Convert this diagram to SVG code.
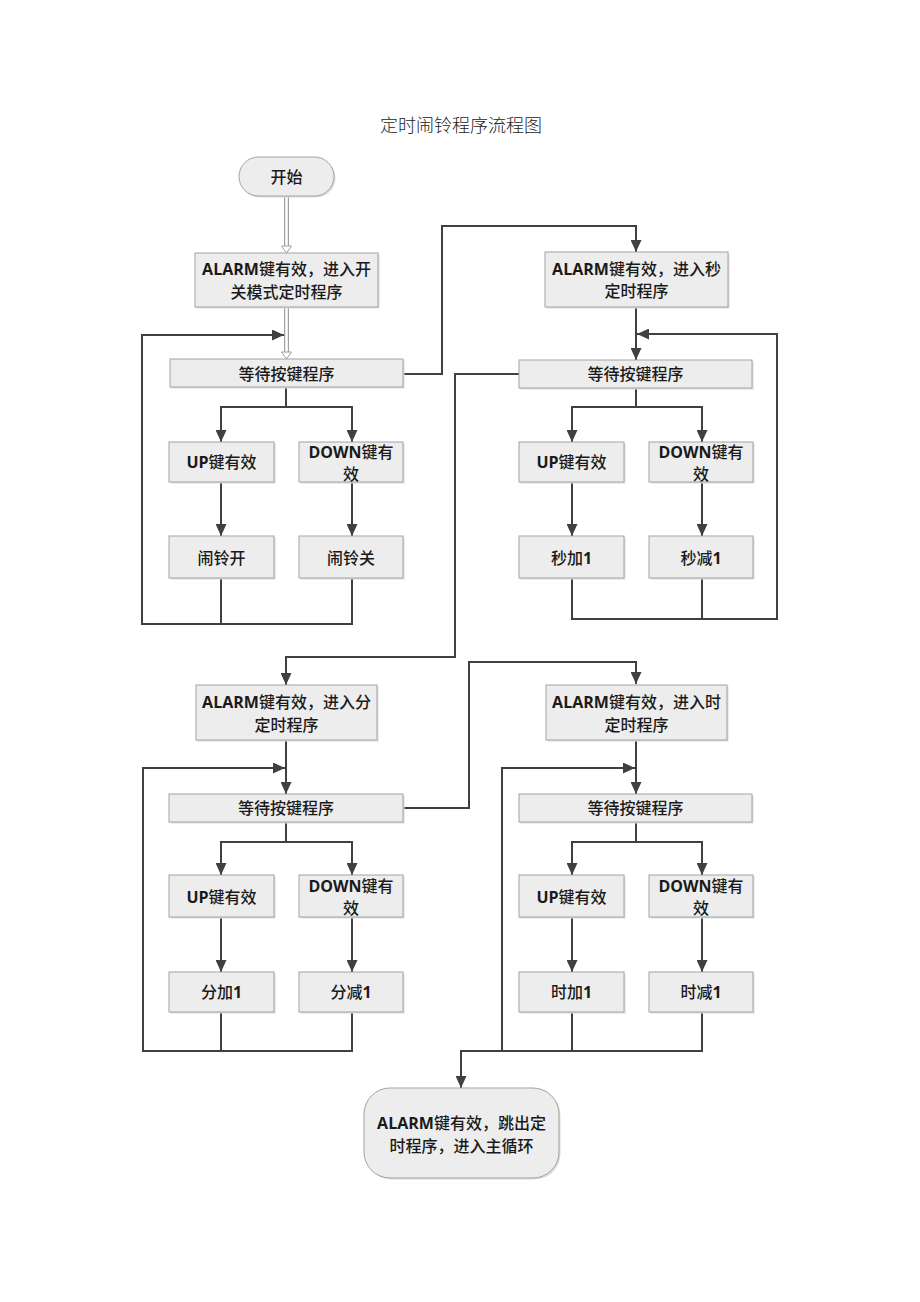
<svg xmlns="http://www.w3.org/2000/svg" width="920" height="1302" viewBox="0 0 920 1302">
<style>
.bx{fill:#ededed;stroke:#a3a3a3;stroke-width:1}
.sh{fill:#dcdcdc}
.t{font-family:"Noto Sans CJK SC","Noto Sans",sans-serif;font-size:16px;font-weight:500;fill:#1a1a1a;text-anchor:middle}
.b{font-weight:bold;font-family:"Open Sans","Noto Sans CJK SC",sans-serif}
.ttl{font-family:"Noto Sans CJK SC",serif;font-size:18px;font-weight:300;fill:#222;text-anchor:middle}
.c{fill:none;stroke:#404040;stroke-width:2}
.ho{fill:none;stroke:#a0a0a0;stroke-width:5}
.hi{fill:none;stroke:#ffffff;stroke-width:2.6}
.hh{fill:#fff;stroke:#a0a0a0;stroke-width:1}
</style>
<defs>
<marker id="ar" markerUnits="userSpaceOnUse" markerWidth="12" markerHeight="11" refX="12" refY="5.5" orient="auto">
<path d="M0,0 L12,5.5 L0,11 z" fill="#404040"/>
</marker>
</defs>
<rect width="920" height="1302" fill="#ffffff"/>
<text class="ttl" x="461" y="132">定时闹铃程序流程图</text>

<g id="connectors">
<g id="hollow">
<line class="ho" x1="286.5" y1="196" x2="286.5" y2="246"/>
<line class="hi" x1="286.5" y1="196" x2="286.5" y2="247"/>
<path class="hh" d="M281.5,246 L291.5,246 L286.5,253 z"/>
<line class="ho" x1="286.5" y1="307" x2="286.5" y2="352"/>
<line class="hi" x1="286.5" y1="307" x2="286.5" y2="353"/>
<path class="hh" d="M281.5,352 L291.5,352 L286.5,359 z"/>
</g>
<path class="c" d="M221,578 V624"/>
<path class="c" d="M352,578 V624 H142 V335 H284" marker-end="url(#ar)"/>
<path class="c" d="M403,374 H442 V226 H636 V252" marker-end="url(#ar)"/>
<path class="c" d="M286,387 V407 H221 V442" marker-end="url(#ar)"/>
<path class="c" d="M286,407 H352 V442" marker-end="url(#ar)"/>
<path class="c" d="M221,482 V536" marker-end="url(#ar)"/>
<path class="c" d="M352,482 V536" marker-end="url(#ar)"/>

<path class="c" d="M636,307 V360" marker-end="url(#ar)"/>
<path class="c" d="M702,578 V619"/>
<path class="c" d="M572,578 V619 H777 V334 H637" marker-end="url(#ar)"/>
<path class="c" d="M636,388 V407 H572 V442" marker-end="url(#ar)"/>
<path class="c" d="M636,407 H702 V442" marker-end="url(#ar)"/>
<path class="c" d="M572,482 V536" marker-end="url(#ar)"/>
<path class="c" d="M702,482 V536" marker-end="url(#ar)"/>

<path class="c" d="M519,374 H455 V657 H286 V685" marker-end="url(#ar)"/>
<path class="c" d="M286,740 V794" marker-end="url(#ar)"/>
<path class="c" d="M221,1012 V1051"/>
<path class="c" d="M352,1012 V1051 H143 V768 H285" marker-end="url(#ar)"/>
<path class="c" d="M286,822 V842 H221 V875" marker-end="url(#ar)"/>
<path class="c" d="M286,842 H352 V875" marker-end="url(#ar)"/>
<path class="c" d="M221,917 V972" marker-end="url(#ar)"/>
<path class="c" d="M352,917 V972" marker-end="url(#ar)"/>

<path class="c" d="M403,808 H469 V662 H636 V684" marker-end="url(#ar)"/>
<path class="c" d="M636,740 V794" marker-end="url(#ar)"/>
<path class="c" d="M572,1012 V1051"/>
<path class="c" d="M702,1012 V1051 H502 V768 H635" marker-end="url(#ar)"/>
<path class="c" d="M636,822 V842 H572 V875" marker-end="url(#ar)"/>
<path class="c" d="M636,842 H702 V875" marker-end="url(#ar)"/>
<path class="c" d="M572,917 V972" marker-end="url(#ar)"/>
<path class="c" d="M702,917 V972" marker-end="url(#ar)"/>
<path class="c" d="M502,1051 H461 V1088" marker-end="url(#ar)"/>
</g>

<g id="start">
<rect class="sh" x="240.5" y="158.5" width="95" height="39" rx="19.5"/>
<rect class="bx" x="239" y="157" width="95" height="39" rx="19.5"/>
<text class="t" x="286.5" y="183">开始</text>
</g>

<g id="alarm-switch">
<rect class="sh" x="196.5" y="254.5" width="183" height="54"/>
<rect class="bx" x="195" y="253" width="183" height="54"/>
<text class="t" x="286.5" y="275"><tspan class="b">ALARM</tspan>键有效，进入开</text>
<text class="t" x="286.5" y="298">关模式定时程序</text>
</g>
<g id="wait1">
<rect class="sh" x="171.5" y="360.5" width="233" height="28"/>
<rect class="bx" x="170" y="359" width="233" height="28"/>
<text class="t" x="286.5" y="380">等待按键程序</text>
</g>
<g id="up1">
<rect class="sh" x="170.5" y="443.5" width="105" height="40"/>
<rect class="bx" x="169" y="442" width="105" height="40"/>
<text class="t" x="221.5" y="468"><tspan class="b">UP</tspan>键有效</text>
</g>
<g id="down1">
<rect class="sh" x="300.5" y="443.5" width="104" height="40"/>
<rect class="bx" x="299" y="442" width="104" height="40"/>
<text class="t" x="351" y="458"><tspan class="b">DOWN</tspan>键有</text>
<text class="t" x="351" y="480">效</text>
</g>
<g id="alarm-on">
<rect class="sh" x="170.5" y="537.5" width="105" height="42"/>
<rect class="bx" x="169" y="536" width="105" height="42"/>
<text class="t" x="221.5" y="564">闹铃开</text>
</g>
<g id="alarm-off">
<rect class="sh" x="300.5" y="537.5" width="104" height="42"/>
<rect class="bx" x="299" y="536" width="104" height="42"/>
<text class="t" x="351" y="564">闹铃关</text>
</g>

<g id="alarm-sec">
<rect class="sh" x="546.5" y="253.5" width="183" height="55"/>
<rect class="bx" x="545" y="252" width="183" height="55"/>
<text class="t" x="636.5" y="275"><tspan class="b">ALARM</tspan>键有效，进入秒</text>
<text class="t" x="636.5" y="297">定时程序</text>
</g>
<g id="wait2">
<rect class="sh" x="520.5" y="361.5" width="233" height="28"/>
<rect class="bx" x="519" y="360" width="233" height="28"/>
<text class="t" x="635.5" y="380">等待按键程序</text>
</g>
<g id="up2">
<rect class="sh" x="520.5" y="443.5" width="105" height="40"/>
<rect class="bx" x="519" y="442" width="105" height="40"/>
<text class="t" x="571.5" y="468"><tspan class="b">UP</tspan>键有效</text>
</g>
<g id="down2">
<rect class="sh" x="650.5" y="443.5" width="104" height="40"/>
<rect class="bx" x="649" y="442" width="104" height="40"/>
<text class="t" x="701" y="458"><tspan class="b">DOWN</tspan>键有</text>
<text class="t" x="701" y="480">效</text>
</g>
<g id="sec-plus">
<rect class="sh" x="520.5" y="537.5" width="105" height="42"/>
<rect class="bx" x="519" y="536" width="105" height="42"/>
<text class="t" x="571.5" y="564">秒加<tspan class="b">1</tspan></text>
</g>
<g id="sec-minus">
<rect class="sh" x="650.5" y="537.5" width="104" height="42"/>
<rect class="bx" x="649" y="536" width="104" height="42"/>
<text class="t" x="701" y="564">秒减<tspan class="b">1</tspan></text>
</g>

<g id="alarm-min">
<rect class="sh" x="197.5" y="686.5" width="181" height="55"/>
<rect class="bx" x="196" y="685" width="181" height="55"/>
<text class="t" x="286.5" y="708"><tspan class="b">ALARM</tspan>键有效，进入分</text>
<text class="t" x="286.5" y="731">定时程序</text>
</g>
<g id="wait3">
<rect class="sh" x="170.5" y="795.5" width="234" height="28"/>
<rect class="bx" x="169" y="794" width="234" height="28"/>
<text class="t" x="286" y="814">等待按键程序</text>
</g>
<g id="up3">
<rect class="sh" x="170.5" y="876.5" width="105" height="42"/>
<rect class="bx" x="169" y="875" width="105" height="42"/>
<text class="t" x="221.5" y="903"><tspan class="b">UP</tspan>键有效</text>
</g>
<g id="down3">
<rect class="sh" x="300.5" y="876.5" width="104" height="42"/>
<rect class="bx" x="299" y="875" width="104" height="42"/>
<text class="t" x="351" y="892"><tspan class="b">DOWN</tspan>键有</text>
<text class="t" x="351" y="914">效</text>
</g>
<g id="min-plus">
<rect class="sh" x="170.5" y="973.5" width="105" height="40"/>
<rect class="bx" x="169" y="972" width="105" height="40"/>
<text class="t" x="221.5" y="998">分加<tspan class="b">1</tspan></text>
</g>
<g id="min-minus">
<rect class="sh" x="300.5" y="973.5" width="104" height="40"/>
<rect class="bx" x="299" y="972" width="104" height="40"/>
<text class="t" x="351" y="998">分减<tspan class="b">1</tspan></text>
</g>

<g id="alarm-hour">
<rect class="sh" x="547.5" y="686.5" width="181" height="55"/>
<rect class="bx" x="546" y="685" width="181" height="55"/>
<text class="t" x="636.5" y="708"><tspan class="b">ALARM</tspan>键有效，进入时</text>
<text class="t" x="636.5" y="731">定时程序</text>
</g>
<g id="wait4">
<rect class="sh" x="520.5" y="795.5" width="233" height="28"/>
<rect class="bx" x="519" y="794" width="233" height="28"/>
<text class="t" x="635.5" y="814">等待按键程序</text>
</g>
<g id="up4">
<rect class="sh" x="520.5" y="876.5" width="105" height="42"/>
<rect class="bx" x="519" y="875" width="105" height="42"/>
<text class="t" x="571.5" y="903"><tspan class="b">UP</tspan>键有效</text>
</g>
<g id="down4">
<rect class="sh" x="650.5" y="876.5" width="104" height="42"/>
<rect class="bx" x="649" y="875" width="104" height="42"/>
<text class="t" x="701" y="892"><tspan class="b">DOWN</tspan>键有</text>
<text class="t" x="701" y="914">效</text>
</g>
<g id="hour-plus">
<rect class="sh" x="520.5" y="973.5" width="105" height="40"/>
<rect class="bx" x="519" y="972" width="105" height="40"/>
<text class="t" x="571.5" y="998">时加<tspan class="b">1</tspan></text>
</g>
<g id="hour-minus">
<rect class="sh" x="650.5" y="973.5" width="104" height="40"/>
<rect class="bx" x="649" y="972" width="104" height="40"/>
<text class="t" x="701" y="998">时减<tspan class="b">1</tspan></text>
</g>

<g id="end">
<rect class="sh" x="365.5" y="1089.5" width="195" height="90" rx="26"/>
<rect class="bx" x="364" y="1088" width="195" height="90" rx="26"/>
<text class="t" x="461.5" y="1129"><tspan class="b">ALARM</tspan>键有效，跳出定</text>
<text class="t" x="461.5" y="1152">时程序，进入主循环</text>
</g>
</svg>
